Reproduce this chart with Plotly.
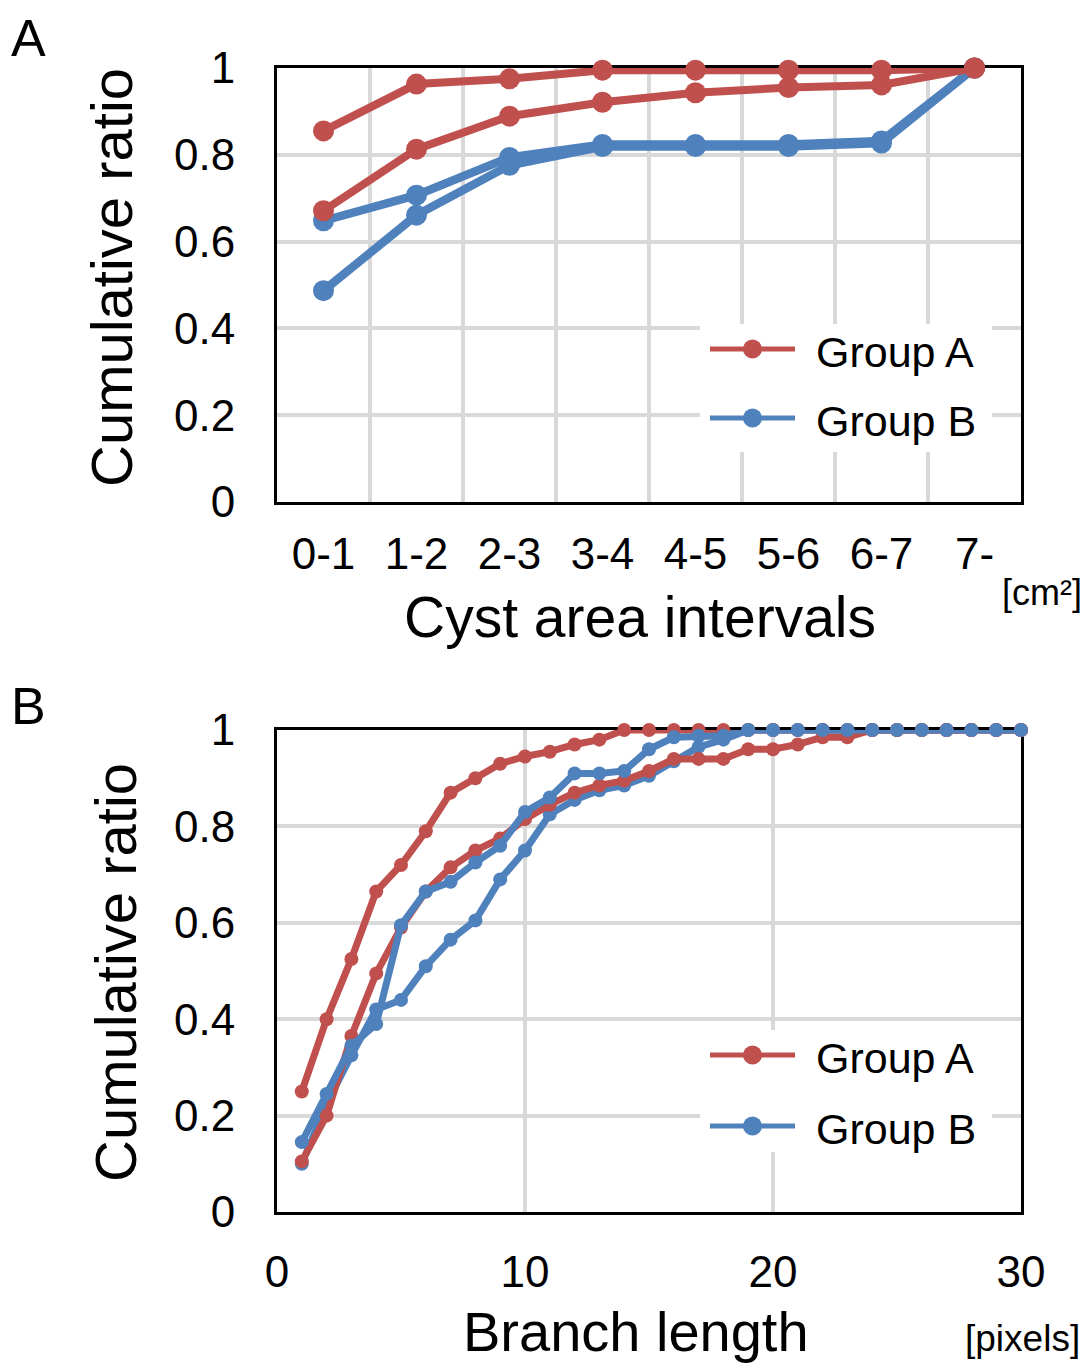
import plotly.graph_objects as go

# ---- Panel A: cumulative ratio by cyst area interval ----
area_intervals = ["0-1", "1-2", "2-3", "3-4", "4-5", "5-6", "6-7", "7-"]
area_group_a1 = [0.855, 0.963, 0.975, 0.995, 0.995, 0.995, 0.995, 1.0]
area_group_a2 = [0.671, 0.813, 0.889, 0.921, 0.943, 0.955, 0.961, 1.0]
area_group_b1 = [0.648, 0.707, 0.794, 0.824, 0.824, 0.824, 0.832, 1.0]
area_group_b2 = [0.487, 0.661, 0.776, 0.819, 0.819, 0.819, 0.827, 1.0]

# ---- Panel B: cumulative ratio by branch length ----
branch_length = list(range(1, 31))
branch_group_a1 = [0.25, 0.40, 0.525, 0.665, 0.72, 0.79, 0.87, 0.90, 0.93, 0.945,
                   0.955, 0.97, 0.98, 1.0, 1.0, 1.0, 1.0, 1.0, 1.0, 1.0,
                   1.0, 1.0, 1.0, 1.0, 1.0, 1.0, 1.0, 1.0, 1.0, 1.0]
branch_group_a2 = [0.105, 0.20, 0.365, 0.495, 0.59, 0.665, 0.715, 0.75, 0.775, 0.815,
                   0.845, 0.87, 0.885, 0.895, 0.915, 0.94, 0.94, 0.94, 0.96, 0.96,
                   0.97, 0.985, 0.985, 1.0, 1.0, 1.0, 1.0, 1.0, 1.0, 1.0]
branch_group_b1 = [0.145, 0.245, 0.345, 0.39, 0.595, 0.665, 0.685, 0.725, 0.76, 0.83,
                   0.86, 0.91, 0.91, 0.915, 0.96, 0.985, 0.988, 0.988, 1.0, 1.0,
                   1.0, 1.0, 1.0, 1.0, 1.0, 1.0, 1.0, 1.0, 1.0, 1.0]
branch_group_b2 = [0.10, 0.225, 0.325, 0.42, 0.44, 0.51, 0.565, 0.605, 0.69, 0.75,
                   0.825, 0.855, 0.875, 0.885, 0.905, 0.935, 0.965, 0.98, 1.0, 1.0,
                   1.0, 1.0, 1.0, 1.0, 1.0, 1.0, 1.0, 1.0, 1.0, 1.0]

y_ticks = [0, 0.2, 0.4, 0.6, 0.8, 1]
branch_ticks = [0, 10, 20, 30]

RED = "#C0504D"
BLUE = "#4F81BD"
GRID = "#D9D9D9"
FONT = "Liberation Sans, Arial, sans-serif"
W, H = 1087, 1366


def px(x):
    return x / W


def py(y):
    return 1 - y / H


fig = go.Figure()


def add_series(x, y, color, xa, ya, lw, ms):
    fig.add_trace(go.Scatter(
        x=x, y=y, mode="lines+markers", xaxis=xa, yaxis=ya,
        line=dict(color=color, width=lw),
        marker=dict(color=color, size=ms),
        cliponaxis=False, showlegend=False, hoverinfo="skip",
    ))


# Panel A traces (blue first, red on top)
add_series(area_intervals, area_group_b1, BLUE, "x", "y", 8.5, 21)
add_series(area_intervals, area_group_b2, BLUE, "x", "y", 8.5, 21)
add_series(area_intervals, area_group_a1, RED, "x", "y", 8, 21)
add_series(area_intervals, area_group_a2, RED, "x", "y", 8, 21)

# Panel B traces
add_series(branch_length, branch_group_b2, BLUE, "x2", "y2", 7, 14)
add_series(branch_length, branch_group_a2, RED, "x2", "y2", 7, 14)
add_series(branch_length, branch_group_a1, RED, "x2", "y2", 7, 14)
add_series(branch_length, branch_group_b1, BLUE, "x2", "y2", 7, 14)

axis_common = dict(
    showline=True, mirror=True, linecolor="black", linewidth=3,
    showgrid=True, gridcolor=GRID, gridwidth=3.5, zeroline=False,
    ticks="", tickfont=dict(family=FONT, size=44, color="black"),
    layer="below traces", automargin=False,
)

x_dom = [px(277), px(1021)]

fig.update_layout(
    template="none",
    width=W, height=H,
    margin=dict(l=0, r=0, t=0, b=0, autoexpand=False),
    paper_bgcolor="white", plot_bgcolor="white",
    xaxis=dict(domain=x_dom, anchor="y", type="category",
               categoryorder="array", categoryarray=area_intervals,
               range=[-0.5, 7.5], tickson="boundaries",
               ticklabelstandoff=11, **axis_common),
    yaxis=dict(domain=[py(502), py(68)], anchor="x", range=[0, 1],
               tickvals=y_ticks, ticktext=[f"{v:g}" for v in y_ticks],
               ticklabelstandoff=30, **axis_common),
    xaxis2=dict(domain=x_dom, anchor="y2", range=[0, 30],
                tickvals=branch_ticks, ticklabelstandoff=19, **axis_common),
    yaxis2=dict(domain=[py(1212), py(730)], anchor="x2", range=[0, 1],
                tickvals=y_ticks, ticktext=[f"{v:g}" for v in y_ticks],
                ticklabelstandoff=30, **axis_common),
)


def text(t, x, y, size, angle=0, xanchor="center"):
    fig.add_annotation(
        text=t, x=px(x), y=py(y), xref="paper", yref="paper",
        xanchor=xanchor, yanchor="middle", showarrow=False, textangle=angle,
        borderpad=0, font=dict(family=FONT, size=size, color="black"),
    )


# Panel letters, axis titles and units
text("A", 10, 38, 52, xanchor="left")
text("B", 10, 706, 52, xanchor="left")
text("Cumulative ratio", 112, 278, 58, angle=-90)
text("Cumulative ratio", 115, 973, 58, angle=-90)
text("Cyst area intervals", 640, 617, 57)
text("Branch length", 636, 1331, 56)
text("[cm²]", 1042, 592, 36)
text("[pixels]", 1022, 1338, 37)


def legend_box(top, bottom, row_a, row_b):
    fig.add_shape(type="rect", xref="paper", yref="paper",
                  x0=px(700), x1=px(992), y0=py(bottom), y1=py(top),
                  fillcolor="white", line=dict(width=0), layer="above")
    for row, color, label in [(row_a, RED, "Group A"), (row_b, BLUE, "Group B")]:
        fig.add_shape(type="line", xref="paper", yref="paper",
                      x0=px(710), x1=px(795), y0=py(row), y1=py(row),
                      line=dict(color=color, width=5), layer="above")
        fig.add_shape(type="circle", xref="paper", yref="paper",
                      x0=px(743), x1=px(762), y0=py(row + 9.5), y1=py(row - 9.5),
                      fillcolor=color, line=dict(width=0), layer="above")
        text(label, 815, row + 3, 43, xanchor="left")


legend_box(324, 452, 349, 418)
legend_box(1030, 1152, 1055, 1126)

fig.write_html("out.html")
